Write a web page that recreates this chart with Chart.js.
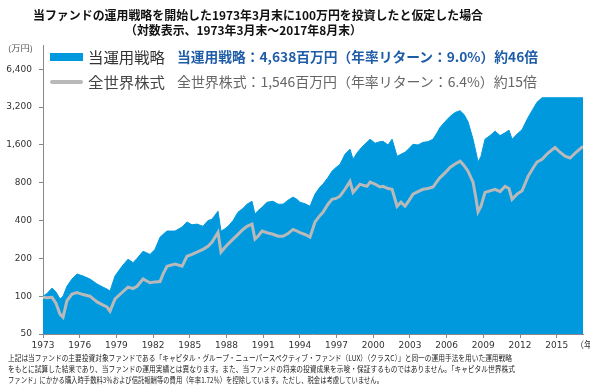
<!DOCTYPE html>
<html><head><meta charset="utf-8">
<script src="https://cdn.jsdelivr.net/npm/chart.js@4.4.1/dist/chart.umd.min.js"></script>
<style>
html,body{margin:0;padding:0;background:#fff;}
#wrap{position:relative;width:590px;height:389px;overflow:hidden;font-family:"Noto Sans CJK JP","Noto Sans",sans-serif;}
#c{position:absolute;left:0;top:0;}
.t{position:absolute;white-space:nowrap;line-height:1;transform-origin:0 0;display:inline-block;}
.sw{position:absolute;}
</style></head>
<body>
<div id="wrap">
<canvas id="c" width="590" height="389"></canvas>
<div class="t" data-w="450" style="left:33px;top:9px;font-size:12px;font-weight:bold;color:#111">当ファンドの運用戦略を開始した1973年3月末に100万円を投資したと仮定した場合</div>
<div class="t" data-w="237" style="left:125px;top:24px;font-size:12px;font-weight:bold;color:#111">（対数表示、1973年3月末～2017年8月末）</div>
<div class="t" data-w="25" style="left:8px;top:44px;font-size:8px;color:#555">(万円)</div>
<div class="sw" style="left:50px;top:53px;width:33px;height:8px;background:#0099dd"></div>
<div class="sw" style="left:50px;top:80px;width:33px;height:4px;background:#b9b9b9;border-radius:2px"></div>
<div class="t" data-w="77" style="left:88px;top:49px;font-size:15px;color:#333">当運用戦略</div>
<div class="t" data-w="77" style="left:88px;top:74px;font-size:15px;color:#444">全世界株式</div>
<div class="t" data-w="361" style="left:177px;top:50px;font-size:13.5px;font-weight:bold;color:#1f5ca8">当運用戦略：4,638百万円（年率リターン：9.0%）約46倍</div>
<div class="t" data-w="360" style="left:177px;top:75px;font-size:13.5px;color:#666">全世界株式：1,546百万円（年率リターン：6.4%）約15倍</div>
<div class="t" style="left:575px;top:340px;font-size:9px;color:#333">（年</div>
<div class="t" data-w="504" style="left:8px;top:354px;font-size:8px;color:#222">上記は当ファンドの主要投資対象ファンドである「キャピタル・グループ・ニューパースペクティブ・ファンド（LUX）（クラスC）」と同一の運用手法を用いた運用戦略</div>
<div class="t" data-w="507" style="left:8px;top:365px;font-size:8px;color:#222">をもとに試算した結果であり、当ファンドの運用実績とは異なります。また、当ファンドの将来の投資成果を示唆・保証するものではありません。「キャピタル世界株式</div>
<div class="t" data-w="375" style="left:8px;top:376px;font-size:8px;color:#222">ファンド」にかかる購入時手数料3％および信託報酬等の費用（年率1.72％）を控除しています。ただし、税金は考慮していません。</div>
</div>
<script>
// Data (time position in years, values in 万円)
const years = [1973.00,1973.33,1973.74,1974.06,1974.39,1974.64,1974.96,1975.37,1975.78,1976.27,1976.84,1977.42,1977.91,1978.23,1978.48,1978.89,1979.46,1979.95,1980.36,1980.69,1981.18,1981.75,1982.16,1982.57,1982.81,1983.14,1983.79,1984.37,1984.77,1985.18,1985.59,1986.08,1986.49,1986.82,1987.31,1987.55,1987.80,1988.13,1988.54,1988.94,1989.35,1989.68,1990.09,1990.33,1990.58,1990.91,1991.32,1991.81,1992.22,1992.62,1993.03,1993.44,1993.77,1994.01,1994.42,1994.83,1995.24,1995.65,1995.89,1996.30,1996.63,1996.96,1997.28,1997.69,1998.10,1998.35,1998.67,1998.92,1999.25,1999.49,1999.74,2000.15,2000.56,2000.80,2001.21,2001.54,2001.95,2002.27,2002.60,2002.93,2003.25,2003.66,2004.07,2004.48,2004.89,2005.22,2005.46,2005.87,2006.28,2006.69,2007.10,2007.42,2007.75,2008.16,2008.40,2008.57,2008.81,2009.14,2009.55,2009.96,2010.37,2010.78,2011.10,2011.35,2011.76,2012.17,2012.66,2013.07,2013.39,2013.80,2014.29,2014.86,2015.27,2015.68,2016.09,2016.58,2017.15];
const strategy = [100,105,116,108,95,100,120,137,150,145,137,125,118,114,110,145,173,197,185,200,228,215,236,295,310,330,330,355,390,370,375,360,400,410,475,330,340,360,400,466,500,540,570,450,480,510,560,570,540,540,580,615,590,560,545,520,650,740,780,880,990,1060,1120,1350,1480,1230,1380,1480,1600,1680,1780,1650,1700,1710,1600,1780,1300,1350,1400,1500,1620,1600,1680,1700,1780,2000,2200,2450,2700,2900,3000,2800,2450,1780,1400,1170,1300,1780,1900,2060,1900,2000,2100,1780,1950,2120,2650,3100,3500,3800,3800,3800,3800,3800,3800,3800,3800];
const world = [98,97,98,88,72,68,92,104,107,103,100,90,85,82,76,95,107,118,115,120,137,128,130,131,150,173,180,173,208,215,224,236,250,270,323,224,240,260,285,311,340,360,375,285,300,330,320,311,300,300,315,340,330,320,310,295,390,440,466,540,590,600,625,710,820,670,730,780,760,750,810,780,740,750,720,710,520,560,520,580,650,680,710,720,740,820,880,960,1060,1130,1190,1100,990,810,600,470,520,670,690,710,680,750,720,590,650,690,900,1050,1170,1230,1380,1530,1400,1300,1260,1400,1560];
const yTicks = [50,100,200,400,800,1600,3200,6400];
const xTicks = [1973,1976,1979,1982,1985,1988,1991,1994,1997,2000,2003,2006,2009,2012,2015];
const seriesNames = ['当運用戦略','全世界株式'];

const tickFont = {family:'"DejaVu Sans", sans-serif', size:9};
new Chart(document.getElementById('c'), {
  type:'line',
  data:{datasets:[
    {label:seriesNames[1], data:years.map((x,i)=>({x:x,y:world[i]})), borderColor:'#b9b9b9', borderWidth:3, pointRadius:0, fill:false, tension:0, order:0},
    {label:seriesNames[0], data:years.map((x,i)=>({x:x,y:strategy[i]})), borderColor:'#0099dd', backgroundColor:'#0099dd', borderWidth:1, pointRadius:0, fill:'start', tension:0, order:1}
  ]},
  options:{
    responsive:false, animation:false, maintainAspectRatio:false,
    layout:{padding:{top:45,right:7,bottom:35,left:0}},
    plugins:{legend:{display:false}, tooltip:{enabled:false}, title:{display:false}},
    scales:{
      x:{type:'linear', min:1973, max:2017.15,
        afterBuildTicks:s=>{s.ticks=xTicks.map(v=>({value:v}));},
        afterFit:s=>{s.height=20;},
        ticks:{callback:v=>String(v), font:tickFont, color:'#333', padding:2, maxRotation:0, autoSkip:false},
        grid:{drawOnChartArea:false, drawTicks:true, tickLength:4, color:'#888'},
        border:{color:'#888', width:1}},
      y:{type:'logarithmic', min:50, max:10000,
        afterBuildTicks:s=>{s.ticks=yTicks.map(v=>({value:v}));},
        afterFit:s=>{s.width=43;},
        ticks:{callback:v=>v.toLocaleString('en-US'), font:tickFont, color:'#333', padding:7, autoSkip:false},
        grid:{drawOnChartArea:false, drawTicks:true, tickLength:4, color:'#888'},
        border:{color:'#888', width:1}}
    }
  }
});
function fit(){
  document.querySelectorAll('.t[data-w]').forEach(el=>{
    el.style.transform='none';
    const w=el.getBoundingClientRect().width;
    const tw=parseFloat(el.dataset.w);
    if(w>0) el.style.transform='scaleX('+(tw/w)+')';
  });
}
fit();
if(document.fonts&&document.fonts.ready) document.fonts.ready.then(fit);
</script>
</body></html>
